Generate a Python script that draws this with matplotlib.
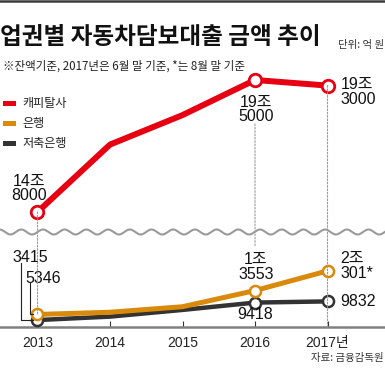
import numpy as np
import matplotlib
matplotlib.use('Agg')
import matplotlib.pyplot as plt
from matplotlib import font_manager
from matplotlib.lines import Line2D
from matplotlib.patches import ConnectionPatch, Rectangle
from matplotlib.transforms import blended_transform_factory, IdentityTransform

# ---------------- data (조 원) ----------------
years = [2013, 2014, 2015, 2016, 2017]
year_labels = ['2013', '2014', '2015', '2016', '2017년']
series_names = ['캐피탈사', '은행', '저축은행']
capital = [14.80, 17.20, 18.25, 19.50, 19.30]
bank = [0.5346, 0.61, 0.80, 1.3553, 2.0301]
savings = [0.3415, 0.46, 0.69, 0.9418, 0.9832]
colors = ['#e60012', '#d98a0b', '#333333']

title = '업권별 자동차담보대출 금액 추이'
subtitle = '※잔액기준, 2017년은 6월 말 기준, *는 8월 말 기준'
unit_text = '단위: 억 원'
source_text = '자료: 금융감독원'

# ---------------- fonts ----------------
names = {f.name for f in font_manager.fontManager.ttflist}
KR = 'Noto Sans CJK KR'
NUM = 'Liberation Sans Narrow' if 'Liberation Sans Narrow' in names else 'Liberation Sans'
plt.rcParams['font.family'] = [KR, 'DejaVu Sans']

W, H = 385, 369
def fx(x):
    return x / W
def fy(y):
    return 1 - y / H

fig = plt.figure(figsize=(W / 100, H / 100), dpi=100)
fig.patch.set_facecolor('white')

X0 = 2013 - 37.5 / 72.5
X1 = 2013 + (W - 37.5) / 72.5

ax_top = fig.add_axes([0, fy(225), 1, (225 - 70) / H])
ax_bot = fig.add_axes([0, fy(327), 1, (327 - 240) / H])
for ax in (ax_top, ax_bot):
    ax.set_xlim(X0, X1)
    ax.patch.set_alpha(0)
    for s in ax.spines.values():
        s.set_visible(False)
    ax.set_yticks([])

ax_top.set_ylim(14.8 - 13 / 28.09, 14.8 + 142 / 28.09)
ax_top.set_xticks([])
ax_bot.set_ylim((330 - 327) / 29.1, (330 - 240) / 29.1)

ax_bot.spines['bottom'].set_visible(True)
ax_bot.spines['bottom'].set_color('#808080')
ax_bot.spines['bottom'].set_linewidth(1.8)
ax_bot.set_xticks(years)
ax_bot.set_xticklabels(year_labels)
ax_bot.tick_params(axis='x', direction='in', length=4.5, width=0.8, color='#333333',
                   pad=6.5, labelsize=10, labelcolor='#222222')
for lab in ax_bot.get_xticklabels():
    lab.set_family([NUM, KR])

# ---------------- dotted guides ----------------
dot_kw = dict(color='#999999', linewidth=0.8, linestyle=(0, (1.5, 1.5)), zorder=1)
con = ConnectionPatch(xyA=(years[0], capital[0]), coordsA=ax_top.transData,
                      xyB=(years[0], bank[0]), coordsB=ax_bot.transData, **dot_kw)
fig.add_artist(con)
btA = blended_transform_factory(ax_top.transData, fig.transFigure)
con = ConnectionPatch(xyA=(years[3], fy(124)), coordsA=btA,
                      xyB=(years[3], fy(247)), coordsB=btA, **dot_kw)
fig.add_artist(con)
con = ConnectionPatch(xyA=(years[4], capital[4]), coordsA=ax_top.transData,
                      xyB=(years[4], 0), coordsB=blended_transform_factory(ax_bot.transData, ax_bot.transAxes),
                      **dot_kw)
fig.add_artist(con)

# ---------------- lines ----------------
ax_top.plot(years, capital, color=colors[0], lw=4.3, solid_joinstyle='round',
            solid_capstyle='round', zorder=3, clip_on=False)
for i in (0, 3, 4):
    ax_top.plot(years[i], capital[i], 'o', ms=9, mfc='white', mec=colors[0], mew=2.0,
                zorder=4, clip_on=False)

ax_bot.plot(years, savings, color=colors[2], lw=3.2, zorder=3, clip_on=False)
ax_bot.plot(years, bank, color=colors[1], lw=3.6, zorder=3.5, clip_on=False)
for i in (0, 3, 4):
    ax_bot.plot(years[i], savings[i], 'o', ms=8, mfc='white', mec=colors[2], mew=1.8,
                zorder=4, clip_on=False)
for i in (0, 3, 4):
    ax_bot.plot(years[i], bank[i], 'o', ms=8, mfc='white', mec=colors[1], mew=1.8,
                zorder=4.5, clip_on=False)

# ---------------- value labels ----------------
def label(ax, x, y, txt, dx, dy, ha='center', va='bottom'):
    return ax.annotate(txt, (x, y), xytext=(dx, dy), textcoords='offset pixels',
                       ha=ha, va=va, multialignment=ha, fontsize=11.5, color='#111111',
                       family=[NUM, KR], linespacing=0.95, zorder=6,
                       annotation_clip=False)

label(ax_top, years[0], capital[0], '14조\n8000', -8, 8.5)
label(ax_top, years[3], capital[3], '19조\n5000', 1, -15, va='top')
label(ax_top, years[4], capital[4], '19조\n3000', 13, -6.5, ha='left', va='center')

label(ax_bot, years[3], bank[3], '1조\n3553', 1, 9)
label(ax_bot, years[3], savings[3], '9418', 0, -4.5, va='top')
label(ax_bot, years[4], bank[4], '2조\n301*', 12.5, 5, ha='left', va='center')
label(ax_bot, years[4], savings[4], '9832', 12.5, 0, ha='left', va='center')
label(ax_bot, years[0], savings[0], '3415', -7.5, 54.6)
label(ax_bot, years[0], bank[0], '5346', 5.5, 28.9)

# leader lines for the 2013 lower labels
fig.canvas.draw()
p = ax_bot.transData.transform((years[0], savings[0]))
fig.add_artist(Line2D([p[0] - 16, p[0] - 16, p[0] - 4.5], [p[1] + 57, p[1], p[1]],
                      transform=IdentityTransform(), color='#222222', lw=0.8, zorder=5))
q = ax_bot.transData.transform((years[0], bank[0]))
fig.add_artist(Line2D([q[0] - 7, q[0] - 7, q[0] - 4.5], [q[1] + 31, q[1], q[1]],
                      transform=IdentityTransform(), color='#222222', lw=0.8, zorder=5))

# ---------------- decorations ----------------
fig.add_artist(Line2D([0, 1], [fy(1), fy(1)], transform=fig.transFigure,
                      color='#3c3c3c', lw=1.8))
wx = np.linspace(0, W, 800)
wy = 232 + 2.5 * np.sin(2 * np.pi * (wx - 5) / 21.7)
fig.add_artist(Line2D(fx(wx), fy(wy), transform=fig.transFigure,
                      color='#9a9a9a', lw=1.5))

fig.text(fx(0), fy(37), title, fontsize=17, weight='bold', color='#111111',
         va='center', ha='left', family=[KR])
fig.text(fx(384), fy(45), unit_text, fontsize=7.5, color='#333333',
         va='center', ha='right', family=[KR])
fig.text(fx(3), fy(66), subtitle, fontsize=8.3, color='#222222',
         va='center', ha='left', family=[KR, 'DejaVu Sans'])
fig.text(fx(384), fy(358), source_text, fontsize=7.5, color='#333333',
         va='center', ha='right', family=[KR])

leg_y = [103, 123.5, 143.5]
for name, c, yy in zip(series_names, colors, leg_y):
    fig.add_artist(Rectangle((fx(3), fy(yy + 2.5)), 13 / W, 5 / H,
                             transform=fig.transFigure, color=c, lw=0))
    fig.text(fx(22), fy(yy), name, fontsize=8.7, color='#222222',
             va='center', ha='left', family=[KR])

fig.savefig('out.png', dpi=100, facecolor='white')
